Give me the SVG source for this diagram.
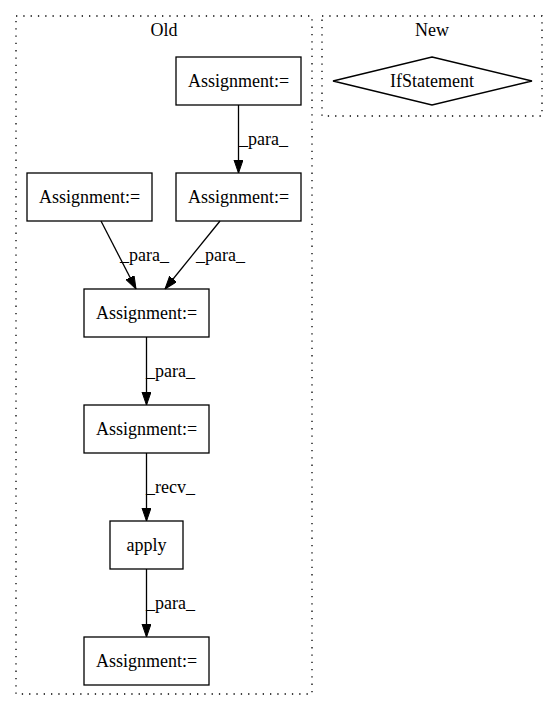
<svg xmlns="http://www.w3.org/2000/svg" width="557" height="712" viewBox="0 0 557 712">
<style>
text{font-family:"Liberation Serif","Times New Roman",serif;font-size:18px;fill:#000}
.c{fill:none;stroke:#000;stroke-dasharray:1.3,6;stroke-width:1.3}
.n{fill:none;stroke:#000;stroke-width:1.3}
.e{fill:none;stroke:#000;stroke-width:1.3}
.m{text-anchor:middle}
</style>
<defs>
<marker id="a" markerWidth="13" markerHeight="10" refX="13" refY="4.5" orient="auto" markerUnits="userSpaceOnUse">
<polygon points="0,0 13,4.5 0,9" fill="#000" stroke="#000"/>
</marker>
</defs>
<rect width="557" height="712" fill="#fff"/>
<g id="clusterOld">
<rect class="c" x="16" y="16" width="296" height="678"/>
<text class="m" x="164" y="36">Old</text>
</g>
<g id="clusterNew">
<rect class="c" x="322" y="16" width="220" height="100"/>
<text class="m" x="432" y="36">New</text>
</g>
<g id="edges">
<path class="e" d="M238.5,105 L238.5,173" marker-end="url(#a)"/>
<text x="239" y="145">_para_</text>
<path class="e" d="M101,221 L136,289" marker-end="url(#a)"/>
<text x="120" y="261">_para_</text>
<path class="e" d="M220,221 L165,289" marker-end="url(#a)"/>
<text x="196" y="261">_para_</text>
<path class="e" d="M146.5,337 L146.5,405" marker-end="url(#a)"/>
<text x="146" y="377">_para_</text>
<path class="e" d="M146.5,453 L146.5,521" marker-end="url(#a)"/>
<text x="146" y="493">_recv_</text>
<path class="e" d="M146.5,569 L146.5,637" marker-end="url(#a)"/>
<text x="146" y="609">_para_</text>
</g>
<g id="n1"><rect class="n" x="176" y="57" width="125" height="48"/><text class="m" x="238.5" y="87">Assignment:=</text></g>
<g id="n2"><rect class="n" x="27" y="173" width="125" height="48"/><text class="m" x="89.5" y="203">Assignment:=</text></g>
<g id="n3"><rect class="n" x="176" y="173" width="125" height="48"/><text class="m" x="238.5" y="203">Assignment:=</text></g>
<g id="n4"><rect class="n" x="84" y="289" width="125" height="48"/><text class="m" x="146.5" y="319">Assignment:=</text></g>
<g id="n5"><rect class="n" x="84" y="405" width="125" height="48"/><text class="m" x="146.5" y="435">Assignment:=</text></g>
<g id="n6"><rect class="n" x="110" y="521" width="73" height="48"/><text class="m" x="146.5" y="551">apply</text></g>
<g id="n7"><rect class="n" x="84" y="637" width="125" height="48"/><text class="m" x="146.5" y="667">Assignment:=</text></g>
<g id="n8"><polygon class="n" points="432,57 532,81 432,105 333,81"/><text class="m" x="432" y="87">IfStatement</text></g>
</svg>
